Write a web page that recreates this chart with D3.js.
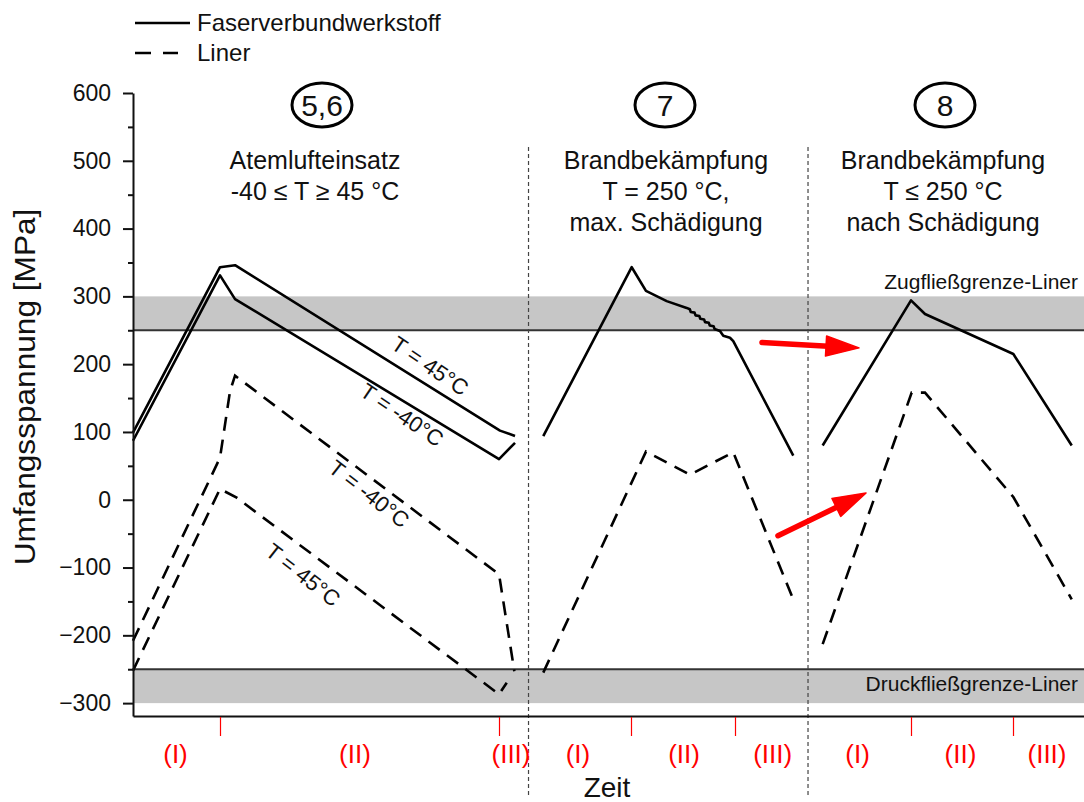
<!DOCTYPE html>
<html><head><meta charset="utf-8">
<script src="https://cdn.jsdelivr.net/npm/d3@7"></script>
<style>
html,body{margin:0;padding:0;background:#fff;}
svg{display:block;font-family:"Liberation Sans",Arial,sans-serif;}
</style></head><body>
<svg id="chart" width="1084" height="802"></svg>
<script>
// ---------- data ----------
const yTicks = [600, 500, 400, 300, 200, 100, 0, -100, -200, -300];
const yMinorTicks = [550, 450, 350, 250, 150, 50, -50, -150, -250];

// time axis in arbitrary units (0..100)
const phaseTicks = [9.15, 38.49, 52.37, 63.30, 81.81, 92.53];
const phaseLabels = ["(I)", "(II)", "(III)", "(I)", "(II)", "(III)", "(I)", "(II)", "(III)"];
const phaseLabelPos = [4.47, 23.34, 39.75, 46.79, 57.94, 67.26, 76.19, 87.01, 96.11];
const sectionBounds = [41.59, 70.98];

// Faserverbundwerkstoff (solid)
const fvwT45 = [[0, 99], [9.15, 343], [10.73, 346], [38.59, 102], [40.17, 94]];
const fvwTm40 = [[0, 87], [9.15, 331], [10.73, 296], [38.49, 60], [40.17, 84]];
const fvw7 = [[43.14, 94], [52.44, 343], [53.94, 308], [56.12, 293], [58.22, 283],
  [58.55, 281], [58.65, 277], [59.05, 276], [59.15, 272], [59.55, 271], [59.65, 267],
  [60.05, 266], [60.15, 262], [60.55, 261], [60.65, 257], [61.05, 256], [61.15, 252],
  [61.72, 249], [62.07, 242], [62.77, 239], [63.12, 234], [69.43, 65]];
const fvw8 = [[72.52, 80], [81.81, 294], [83.28, 274], [92.57, 215], [98.71, 80]];

// Liner (dashed)
const linerT45 = [[0, -252], [9.15, 16], [10.9, 3], [38.49, -287], [39.3, -270]];
const linerTm40 = [[0, -208], [9.15, 62], [10.2, 160], [10.73, 183], [38.49, -110], [40.1, -253]];
const liner7 = [[43.14, -255], [53.94, 71], [58.57, 37], [63.12, 70], [69.43, -147]];
const liner8 = [[72.52, -213], [81.88, 158], [83.28, 158], [92.57, 4], [98.71, -147]];

const bandLow = [-300, -250];
const bandHigh = [250, 300];

// arrows [from, to] in data units
const arrows = [[[66.14, 232], [76.34, 224]], [[67.82, -53], [77.08, 10]]];

// ---------- drawing ----------
const svg = d3.select("#chart");
const x = d3.scaleLinear().domain([0, 100]).range([133, 1084]);
const y = d3.scaleLinear().domain([-319, 600]).range([716, 93]);

// bands
[[bandHigh, bandHigh[0]], [bandLow, bandLow[1]]].forEach(([b, edge]) => {
  svg.append("rect").attr("x", x(0)).attr("width", x(100) - x(0))
    .attr("y", y(b[1])).attr("height", y(b[0]) - y(b[1])).attr("fill", "#c6c6c6");
  svg.append("line").attr("x1", x(0)).attr("x2", x(100)).attr("y1", y(edge)).attr("y2", y(edge))
    .attr("stroke", "#333").attr("stroke-width", 2);
});
svg.append("text").attr("x", 1078).attr("y", 289).attr("text-anchor", "end")
  .attr("font-size", 21).attr("fill", "#111").text("Zugfließgrenze-Liner");
svg.append("text").attr("x", 1078).attr("y", 691).attr("text-anchor", "end")
  .attr("font-size", 21).attr("fill", "#111").text("Druckfließgrenze-Liner");

// section separators
sectionBounds.forEach(t => {
  svg.append("line").attr("x1", x(t)).attr("x2", x(t)).attr("y1", 147).attr("y2", 798)
    .attr("stroke", "#444").attr("stroke-width", 1.2).attr("stroke-dasharray", "4,3");
});

// lines
const line = d3.line().x(d => x(d[0])).y(d => y(d[1]));
[fvwT45, fvwTm40, fvw7, fvw8].forEach(s => {
  svg.append("path").datum(s).attr("d", line).attr("fill", "none")
    .attr("stroke", "#000").attr("stroke-width", 2.6).attr("stroke-linejoin", "round");
});
[linerT45, linerTm40, liner7, liner8].forEach(s => {
  svg.append("path").datum(s).attr("d", line).attr("fill", "none")
    .attr("stroke", "#000").attr("stroke-width", 2.6).attr("stroke-dasharray", "14,9");
});

// axes
const yAxis = svg.append("g").attr("transform", `translate(${x(0)},0)`)
  .call(d3.axisLeft(y).tickValues(yTicks).tickSize(10).tickSizeOuter(0).tickPadding(12));
yAxis.selectAll("text").attr("font-size", 23).attr("font-family", "Liberation Sans, Arial, sans-serif").attr("fill", "#111");
yAxis.selectAll("line, path").attr("stroke", "#111").attr("stroke-width", 2);
const yMinor = svg.append("g").attr("transform", `translate(${x(0)},0)`)
  .call(d3.axisLeft(y).tickValues(yMinorTicks).tickSize(5).tickFormat(""));
yMinor.select(".domain").remove();
yMinor.selectAll("line").attr("stroke", "#111").attr("stroke-width", 2);

const xAxis = svg.append("g").attr("transform", `translate(0,${y(-319)})`)
  .call(d3.axisBottom(x).tickValues([]).tickSizeOuter(0));
xAxis.select(".domain").attr("stroke", "#111").attr("stroke-width", 2.2);
const xPhase = svg.append("g").attr("transform", `translate(0,${y(-319) + 1})`)
  .call(d3.axisBottom(x).tickValues(phaseTicks).tickSize(19).tickFormat(""));
xPhase.select(".domain").remove();
xPhase.selectAll(".tick").attr("transform", d => `translate(${Math.round(x(d)) + 0.5},0)`);
xPhase.selectAll("line").attr("stroke", "#ff0000").attr("stroke-width", 1.2);

phaseLabels.forEach((l, i) => {
  svg.append("text").attr("x", x(phaseLabelPos[i])).attr("y", 763).attr("text-anchor", "middle")
    .attr("font-size", 26).attr("fill", "#ff0000").text(l);
});

// axis titles
svg.append("text").attr("x", 607).attr("y", 797).attr("text-anchor", "middle")
  .attr("font-size", 28).attr("fill", "#111").text("Zeit");
svg.append("text").attr("transform", "translate(35,387) rotate(-90) scale(1.09,1)").attr("text-anchor", "middle")
  .attr("font-size", 29).attr("fill", "#111").text("Umfangsspannung [MPa]");

// legend
svg.append("line").attr("x1", 135).attr("x2", 190).attr("y1", 23).attr("y2", 23)
  .attr("stroke", "#000").attr("stroke-width", 2.6);
svg.append("line").attr("x1", 135).attr("x2", 178).attr("y1", 53).attr("y2", 53)
  .attr("stroke", "#000").attr("stroke-width", 2.6).attr("stroke-dasharray", "16,12");
svg.append("text").attr("x", 197).attr("y", 31).attr("font-size", 24).attr("fill", "#111").text("Faserverbundwerkstoff");
svg.append("text").attr("x", 197).attr("y", 61).attr("font-size", 24).attr("fill", "#111").text("Liner");

// section headers
const headers = [
  {cx: 322, num: "5,6", lines: ["Atemlufteinsatz", "-40 ≤ T ≥ 45 °C"], tx: 315},
  {cx: 665, num: "7", lines: ["Brandbekämpfung", "T = 250 °C,", "max. Schädigung"], tx: 666},
  {cx: 945, num: "8", lines: ["Brandbekämpfung", "T ≤ 250 °C", "nach Schädigung"], tx: 943}
];
headers.forEach(h => {
  svg.append("ellipse").attr("cx", h.cx).attr("cy", 105).attr("rx", 30).attr("ry", 22)
    .attr("fill", "none").attr("stroke", "#000").attr("stroke-width", 3);
  svg.append("text").attr("x", h.cx).attr("y", 116).attr("text-anchor", "middle")
    .attr("font-size", 30).attr("fill", "#111").text(h.num);
  h.lines.forEach((l, i) => {
    svg.append("text").attr("x", h.tx).attr("y", 169 + i * 31).attr("text-anchor", "middle")
      .attr("font-size", 25).attr("fill", "#111").text(l);
  });
});

// rotated line labels
const tlabels = [
  {x: 430, y: 366, a: 34, t: "T = 45°C"},
  {x: 402, y: 415, a: 34, t: "T = -40°C"},
  {x: 369, y: 494, a: 38, t: "T = -40°C"},
  {x: 303, y: 575, a: 38, t: "T = 45°C"}
];
tlabels.forEach(d => {
  svg.append("text").attr("transform", `translate(${d.x},${d.y}) rotate(${d.a})`)
    .attr("text-anchor", "middle").attr("dominant-baseline", "central")
    .attr("font-size", 22).attr("fill", "#111").text(d.t);
});

// red arrows
arrows.forEach(([a, b]) => {
  const x1 = x(a[0]), y1 = y(a[1]), x2 = x(b[0]), y2 = y(b[1]);
  const L = Math.hypot(x2 - x1, y2 - y1), ux = (x2 - x1) / L, uy = (y2 - y1) / L;
  const hl = 33, hw = 10;
  const bx = x2 - ux * hl, by = y2 - uy * hl;
  svg.append("line").attr("x1", x1).attr("y1", y1).attr("x2", bx + ux * 2).attr("y2", by + uy * 2)
    .attr("stroke", "#ff0000").attr("stroke-width", 5.5).attr("stroke-linecap", "round");
  svg.append("path").attr("d", `M${x2},${y2}L${bx - uy * hw},${by + ux * hw}L${bx + uy * hw},${by - ux * hw}Z`)
    .attr("fill", "#ff0000").attr("stroke", "#ff0000").attr("stroke-width", 1.5).attr("stroke-linejoin", "round");
});
</script>
</body></html>
